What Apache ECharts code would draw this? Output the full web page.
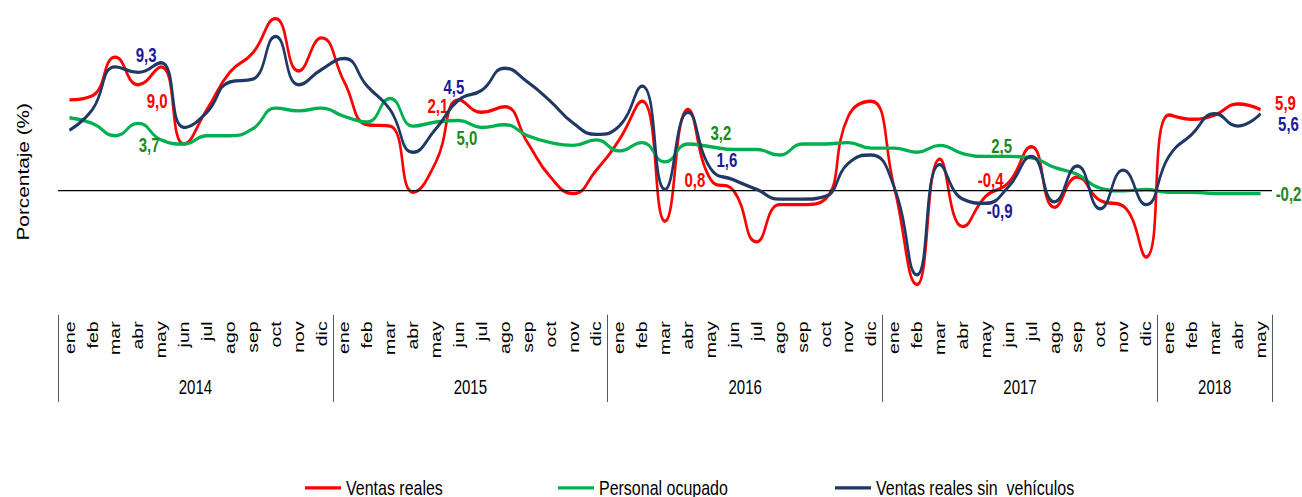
<!DOCTYPE html>
<html>
<head>
<meta charset="utf-8">
<script src="https://cdn.jsdelivr.net/npm/echarts@6/dist/echarts.min.js"></script>
<style>
  html, body { margin: 0; padding: 0; background: #fff; overflow: hidden; width: 1302px; height: 497px; }
  #wrap { position: relative; width: 1302px; height: 497px; overflow: hidden; }
  #chart { position: absolute; left: 0; top: 0; width: 1302px; height: 382px; transform: scaleY(1.30105); transform-origin: 0 0; }
</style>
</head>
<body>
<div id="wrap"><div id="chart"></div></div>
<script>
// ---------- DATA ----------
const categories = [
  'ene','feb','mar','abr','may','jun','jul','ago','sep','oct','nov','dic',
  'ene','feb','mar','abr','may','jun','jul','ago','sep','oct','nov','dic',
  'ene','feb','mar','abr','may','jun','jul','ago','sep','oct','nov','dic',
  'ene','feb','mar','abr','may','jun','jul','ago','sep','oct','nov','dic',
  'ene','feb','mar','abr','may'
];
const years = ['2014', '2015', '2016', '2017', '2018'];
const monthsPerYear = [12, 12, 12, 12, 5];

const ventasReales = [
  6.6, 6.9, 9.7, 7.7, 9.0, 3.4, 5.9, 8.6, 10.0, 12.5, 8.7, 11.1,
  7.9, 4.8, 4.7, -0.1, 2.1, 6.6, 5.7, 6.1, 3.5, 1.0, -0.2, 1.5,
  3.7, 6.5, -2.2, 5.9, 0.8, 0.0, -3.7, -1.0, -1.0, -0.6, 5.4, 6.5,
  0.3, -6.8, 2.3, -2.6, -0.4, 0.6, 3.2, -1.2, 1.0, -0.7, -1.1, -4.8,
  5.5, 5.2, 5.5, 6.3, 5.9
];
const personalOcupado = [
  5.3, 4.9, 4.0, 4.9, 3.7, 3.4, 4.0, 4.0, 4.5, 6.0, 5.8, 6.0,
  5.4, 5.0, 6.7, 4.7, 5.0, 5.1, 4.6, 4.8, 4.0, 3.5, 3.3, 3.7,
  2.9, 3.5, 2.1, 3.4, 3.2, 3.0, 3.0, 2.6, 3.4, 3.4, 3.5, 3.1,
  3.1, 2.8, 3.3, 2.7, 2.5, 2.5, 2.4, 1.7, 1.2, 0.2, 0.0, 0.1,
  -0.1, -0.1, -0.2, -0.2, -0.2
];
const ventasSinVehiculos = [
  4.4, 5.9, 9.0, 8.6, 9.3, 4.6, 5.7, 7.9, 8.1, 11.2, 7.7, 8.8,
  9.6, 7.6, 5.9, 2.8, 4.5, 6.6, 7.3, 8.9, 7.9, 6.5, 4.9, 4.1,
  4.7, 7.6, 0.1, 5.7, 1.6, 0.8, 0.1, -0.6, -0.6, -0.4, 2.0, 2.6,
  0.3, -6.1, 1.9, -0.6, -0.9, 0.3, 2.5, -0.8, 1.8, -1.3, 1.5, -1.0,
  2.5, 4.1, 5.6, 4.7, 5.6
];
const labeledIndex = [4, 16, 28, 40, 52];

// ---------- STYLE ----------
const Y_SCALE = 497 / 382;
const FONT = '"Liberation Sans", Arial, sans-serif';
const redOffsets   = [[-4, 34], [2, -56], [-16, 0], [5, -16], [25, -6]];
const greenOffsets = [[-12, 5], [31, 16], [10, -13], [16, -10], [28, 1]];
const blueOffsets  = [[-15, -7], [18, -42], [16, -9], [14, 8], [28, 11]];

function fmt(v) { return v.toFixed(1).replace('.', ','); }

function withLabels(values, labelColor) {
  return values.map(function (v, i) {
    if (labeledIndex.indexOf(i) < 0) return v;
    return {
      value: v,
      label: {
        show: true,
        position: 'inside',
        align: 'center',
        verticalAlign: 'middle',
        color: labelColor,
        fontWeight: 'bold',
        fontSize: 15,
        fontFamily: FONT,
        formatter: function (p) { return fmt(p.value); }
      }
    };
  });
}

// year boundaries & centers on a 0..N value axis
const yearBounds = [0];
const yearCenters = [];
monthsPerYear.forEach(function (n) {
  const start = yearBounds[yearBounds.length - 1];
  yearCenters.push(start + n / 2);
  yearBounds.push(start + n);
});

function lineSeries(name, values, color, offsets, labelColor, z) {
  return {
    name: name,
    type: 'line',
    data: withLabels(values, labelColor),
    smooth: 0.5,
    symbol: 'circle',
    symbolSize: 0,
    showSymbol: true,
    showAllSymbol: true,
    z: z,
    lineStyle: { color: color, width: 2.6 },
    itemStyle: { color: color },
    emphasis: { disabled: true },
    labelLayout: function (p) {
      const k = labeledIndex.indexOf(p.dataIndex);
      if (k < 0) return {};
      return { dx: offsets[k][0], dy: offsets[k][1] / Y_SCALE, hideOverlap: false };
    }
  };
}

const chart = echarts.init(document.getElementById('chart'), null, { renderer: 'svg' });

const series = [
  lineSeries('Ventas reales', ventasReales, '#FF0000', redOffsets, '#FF0000', 3),
  lineSeries('Personal ocupado', personalOcupado, '#00B050', greenOffsets, '#1E8A1E', 4),
  lineSeries('Ventas reales sin  vehículos', ventasSinVehiculos, '#1F3864', blueOffsets, '#1A1A9A', 5)
];
series[0].markLine = {
  silent: true,
  symbol: 'none',
  label: { show: false },
  lineStyle: { color: '#000', width: 1, type: 'solid' },
  data: [{ yAxis: 0 }]
};

const legendBase = {
  top: 362,
  icon: 'rect',
  itemWidth: 36,
  itemHeight: 2.4,
  itemGap: 0,
  textStyle: { fontSize: 16, color: '#000', fontFamily: FONT },
  selectedMode: false
};

chart.setOption({
  animation: false,
  grid: { left: 58, right: 30, top: 9, bottom: 140, containLabel: false },
  xAxis: [
    {
      type: 'category',
      data: categories,
      boundaryGap: true,
      position: 'bottom',
      axisLine: { show: false },
      axisTick: { show: false },
      splitLine: { show: false },
      axisLabel: {
        interval: 0, rotate: 90, margin: 5,
        fontSize: 15, color: '#000', fontFamily: FONT
      }
    },
    {
      type: 'value',
      min: 0,
      max: categories.length,
      position: 'bottom',
      axisLine: { show: false },
      splitLine: { show: false },
      axisTick: {
        show: true, inside: false, length: 67,
        customValues: yearBounds,
        lineStyle: { color: '#595959', width: 1 }
      },
      axisLabel: {
        show: true, margin: 48,
        customValues: yearCenters,
        fontSize: 15, color: '#000', fontFamily: FONT,
        formatter: function (v) {
          const k = yearCenters.findIndex(function (c) { return Math.abs(c - v) < 1e-6; });
          return k >= 0 ? years[k] : '';
        }
      }
    }
  ],
  yAxis: {
    type: 'value',
    min: -9,
    max: 13,
    show: false
  },
  legend: [
    Object.assign({}, legendBase, { left: 300, data: ['Ventas reales'] }),
    Object.assign({}, legendBase, { left: 553, data: ['Personal ocupado'] }),
    Object.assign({}, legendBase, { left: 830, data: ['Ventas reales sin  vehículos'] })
  ],
  graphic: [{
    type: 'text',
    x: 23,
    y: 132,
    rotation: Math.PI / 2,
    style: {
      text: 'Porcentaje (%)',
      font: '16px ' + FONT,
      fill: '#000',
      textAlign: 'center',
      textVerticalAlign: 'middle'
    }
  }],
  series: series
});
</script>
</body>
</html>
